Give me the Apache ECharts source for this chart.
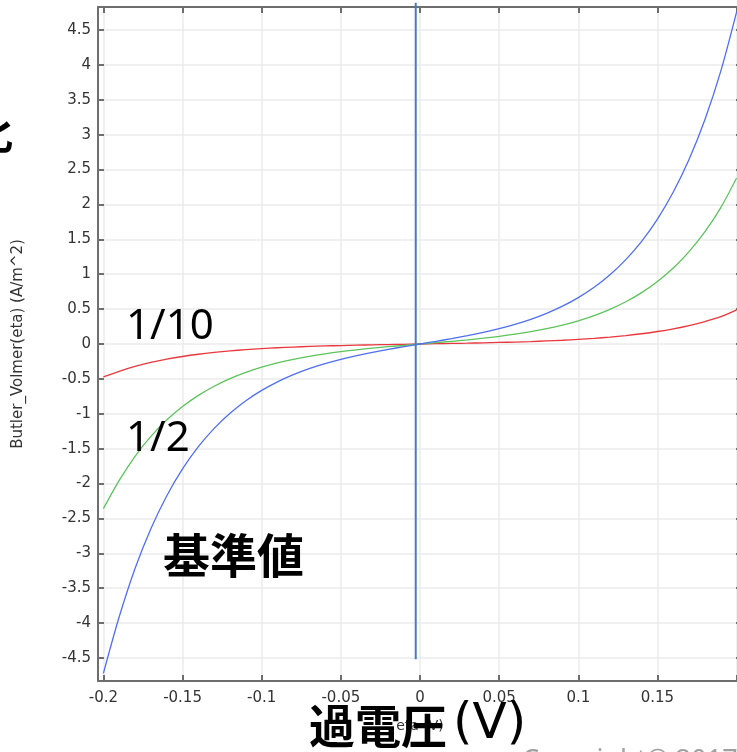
<!DOCTYPE html>
<html>
<head>
<meta charset="utf-8">
<script src="https://cdn.jsdelivr.net/npm/echarts@6/dist/echarts.min.js"></script>
<style>
html,body{margin:0;padding:0;background:#fff;}
#c{width:737px;height:752px;}
</style>
</head>
<body>
<div id="c"></div>
<script>
// overpotential (V)
const eta = [-0.20,-0.19,-0.18,-0.17,-0.16,-0.15,-0.14,-0.13,-0.12,-0.11,-0.10,-0.09,-0.08,-0.07,-0.06,-0.05,-0.04,-0.03,-0.02,-0.01,0,
  0.01,0.02,0.03,0.04,0.05,0.06,0.07,0.08,0.09,0.10,0.11,0.12,0.13,0.14,0.15,0.16,0.17,0.18,0.19,0.20];
// 基準値 (blue)
const baseVals = [-4.72,-3.91,-3.217,-2.647,-2.178,-1.791,-1.472,-1.210,-0.993,-0.813,-0.665,-0.542,-0.440,-0.354,-0.282,-0.220,-0.167,-0.120,-0.077,-0.038,0,
  0.038,0.077,0.120,0.167,0.220,0.282,0.354,0.440,0.542,0.665,0.813,0.993,1.210,1.472,1.791,2.178,2.647,3.217,3.911,4.76];
// 1/2 (green)
const halfVals = [-2.36,-1.955,-1.609,-1.324,-1.089,-0.896,-0.736,-0.605,-0.496,-0.407,-0.333,-0.271,-0.220,-0.177,-0.141,-0.110,-0.083,-0.060,-0.039,-0.019,0,
  0.019,0.039,0.060,0.083,0.110,0.141,0.177,0.220,0.271,0.333,0.407,0.496,0.605,0.736,0.896,1.089,1.324,1.609,1.955,2.38];
// 1/10 (red)
const tenthVals = [-0.47,-0.391,-0.322,-0.265,-0.218,-0.179,-0.147,-0.121,-0.099,-0.081,-0.067,-0.054,-0.044,-0.035,-0.028,-0.022,-0.017,-0.012,-0.008,-0.004,0,
  0.004,0.008,0.012,0.017,0.022,0.028,0.035,0.044,0.054,0.067,0.081,0.099,0.121,0.147,0.179,0.218,0.265,0.322,0.391,0.49];
// vertical marker line
const vlineX = -0.0027;
const vlineY = [4.89, -4.52];

const xTickStep = 0.05, yTickStep = 0.5;
const xLabelMax = 0.15;

function fmt(step, dec, maxV) {
  return function (v) {
    const r = v / step;
    if (Math.abs(r - Math.round(r)) > 1e-6) return '';
    const val = +(Math.round(r) * step).toFixed(dec);
    if (maxV !== undefined && val > maxV + 1e-9) return '';
    return String(val);
  };
}

const axisColor = '#6e6e6e';
const labelFont = 'DejaVu Sans';
const xRange = [-0.2034, 0.2034];
const yRange = [-4.83, 4.83];

function mkX(pos, main) {
  return {
    type: 'value', position: pos, min: xRange[0], max: xRange[1],
    minInterval: xTickStep, maxInterval: xTickStep,
    axisLine: {show: true, onZero: false, lineStyle: {color: axisColor, width: 2}},
    axisTick: {show: true, inside: true, length: 6, lineStyle: {color: axisColor, width: 2}},
    axisLabel: {show: main, margin: 10, fontSize: 15, color: '#333', fontFamily: labelFont, formatter: fmt(xTickStep, 2, xLabelMax), hideOverlap: false},
    splitLine: {show: main, lineStyle: {color: '#ebebeb', width: 1.5}},
    name: main ? 'eta (V)' : '', nameLocation: 'middle', nameGap: 38,
    nameTextStyle: {fontSize: 14, color: '#333', fontFamily: labelFont}
  };
}
function mkY(pos, main) {
  return {
    type: 'value', position: pos, min: yRange[0], max: yRange[1],
    minInterval: yTickStep, maxInterval: yTickStep,
    axisLine: {show: true, onZero: false, lineStyle: {color: axisColor, width: 2}},
    axisTick: {show: true, inside: true, length: 6, lineStyle: {color: axisColor, width: 2}},
    axisLabel: {show: main, margin: 7, fontSize: 15, color: '#333', fontFamily: labelFont, formatter: fmt(yTickStep, 1), hideOverlap: false},
    splitLine: {show: main, lineStyle: {color: '#ebebeb', width: 1.5}},
    name: main ? 'Butler_Volmer(eta) (A/m^2)' : '', nameLocation: 'middle', nameRotate: 90, nameGap: 72,
    nameTextStyle: {fontSize: 15, color: '#333', fontFamily: labelFont}
  };
}

function curve(vals, color) {
  return {
    type: 'line', xAxisIndex: 0, yAxisIndex: 0,
    data: eta.map((x, i) => [x, vals[i]]),
    smooth: 0.3, showSymbol: false, symbol: 'none',
    lineStyle: {color: color, width: 1.3}, z: 3
  };
}

const chart = echarts.init(document.getElementById('c'), null, {renderer: 'canvas'});
chart.setOption({
  animation: false,
  backgroundColor: '#fff',
  grid: {left: 98, top: 7, width: 644, height: 674, containLabel: false, outerBoundsMode: 'none'},
  xAxis: [mkX('bottom', true), mkX('top', false)],
  yAxis: [mkY('left', true), mkY('right', false)],
  series: [
    curve(tenthVals, '#e8383d'),
    curve(halfVals, '#5cc45c'),
    curve(baseVals, '#4f6ff0'),
    {
      type: 'line', xAxisIndex: 0, yAxisIndex: 0, clip: false,
      data: vlineY.map(y => [vlineX, y]),
      showSymbol: false, symbol: 'none',
      lineStyle: {color: '#4a7bbf', width: 2}, z: 4
    }
  ],
  graphic: [
    {type: 'text', z: 100, left: 126, top: 306, style: {text: '1/10', font: '42px "Noto Sans"', fill: '#000'}},
    {type: 'text', z: 100, left: 126, top: 418, style: {text: '1/2', font: '42px "Noto Sans"', fill: '#000'}},
    {type: 'text', z: 100, left: 163, top: 532, style: {text: '基準値', font: 'bold 47px "Noto Sans CJK JP"', fill: '#000'}},
    {type: 'text', z: 100, left: 309, top: 703, style: {text: '過電圧', font: 'bold 46px "Noto Sans CJK JP"', fill: '#000'}},
    {type: 'text', z: 100, left: 453, top: 700, style: {text: '(V)', font: '50px "DejaVu Sans"', fill: '#000'}},
    {type: 'text', z: 90, left: 522, top: 748, style: {text: 'Copyright© 2017', font: '27px "Noto Sans"', fill: '#a0a0a0'}},
    {type: 'text', z: 100, left: -29, top: 112, style: {text: '化', font: 'bold 42px "Noto Sans CJK JP"', fill: '#000'}}
  ]
});
</script>
</body>
</html>
